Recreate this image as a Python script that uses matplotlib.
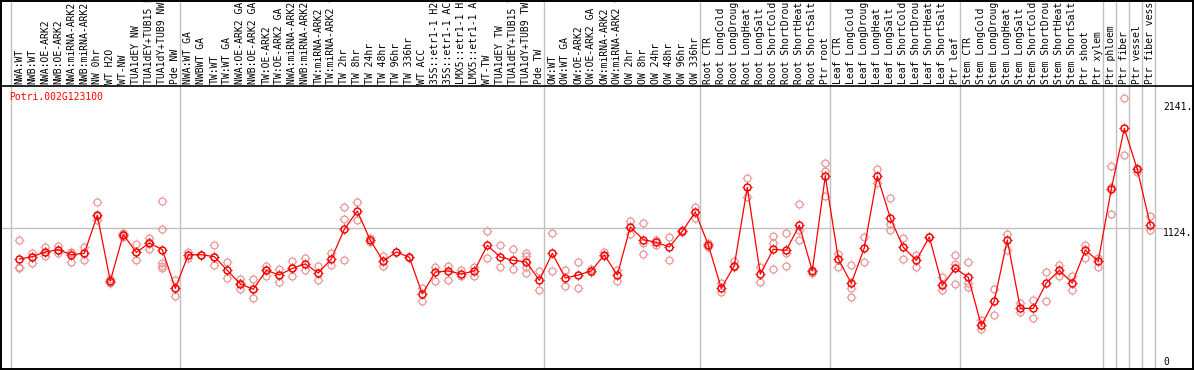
import matplotlib
matplotlib.use('Agg')
import matplotlib.pyplot as plt
from matplotlib.path import Path

# ---------------- data ----------------
gene = "Potri.002G123100"
categories = [
    "NWA:WT", "NWB:WT", "NWA:OE-ARK2", "NWB:OE-ARK2", "NWA:miRNA-ARK2", "NWB:miRNA-ARK2",
    "NW 0hr", "WT H2O", "WT-NW", "TUA1dEY NW", "TUA1dEY+TUB15 NW", "TUA1dY+TUB9 NW", "Pde NW",
    "NWA:WT GA", "NWBWT GA", "TW:WT", "TW:WT GA", "NWA:OE-ARK2 GA", "NWB:OE-ARK2 GA",
    "TW:OE-ARK2", "TW:OE-ARK2 GA", "NWA:miRNA-ARK2 GA", "NWB:miRNA-ARK2 GA", "TW:miRNA-ARK2",
    "TW:miRNA-ARK2 GA", "TW 2hr", "TW 8hr", "TW 24hr", "TW 48hr", "TW 96hr", "TW 336hr",
    "WT ACC", "35S::etr1-1 H2O", "35S::etr1-1 ACC", "LMX5::etr1-1 H2O", "LMX5::etr1-1 ACC",
    "WT-TW", "TUA1dEY TW", "TUA1dEY+TUB15 TW", "TUA1dY+TUB9 TW", "Pde TW",
    "OW:WT", "OW:WT GA", "OW:OE-ARK2", "OW:OE-ARK2 GA", "OW:miRNA-ARK2", "OW:miRNA-ARK2 GA",
    "OW 2hr", "OW 8hr", "OW 24hr", "OW 48hr", "OW 96hr", "OW 336hr",
    "Root CTR", "Root LongCold", "Root LongDrought", "Root LongHeat", "Root LongSalt",
    "Root ShortCold", "Root ShortDrought", "Root ShortHeat", "Root ShortSalt", "Ptr root",
    "Leaf CTR", "Leaf LongCold", "Leaf LongDrought", "Leaf LongHeat", "Leaf LongSalt",
    "Leaf ShortCold", "Leaf ShortDrought", "Leaf ShortHeat", "Leaf ShortSalt", "Ptr leaf",
    "Stem CTR", "Stem LongCold", "Stem LongDrought", "Stem LongHeat", "Stem LongSalt",
    "Stem ShortCold", "Stem ShortDrought", "Stem ShortHeat", "Stem ShortSalt", "Ptr shoot",
    "Ptr xylem", "Ptr phloem", "Ptr fiber", "Ptr vessel", "Ptr fiber vessel",
]
means = [
    870, 889, 927, 946, 905, 916, 1225, 691, 1068, 924, 1000, 946, 632,
    905, 905, 889, 778, 667, 624, 778, 740, 794, 830, 756, 870, 1111, 1260, 1022,
    851, 927, 884, 586, 764, 773, 748, 773, 981, 886, 859, 846, 697,
    916, 716, 740, 773, 903, 740, 1130, 1027, 1005, 968, 1095, 1252,
    984, 632, 816, 1452, 748, 949, 941, 1144, 773, 1544,
    870, 672, 960, 1544, 1203, 965, 859, 1049, 656, 794,
    721, 331, 529, 1024, 469, 469, 675, 778, 675, 943, 854,
    1439, 1931, 1598, 1146,
]
replicates = [
    [1024, 808, 794], [922, 840, 889], [965, 897, 927], [978, 922, 943], [930, 849, 922],
    [970, 859, 916], [1330, 1187, 1220], [705, 678, 686], [1084, 1051, 1070], [992, 859, 927],
    [1043, 949, 1008], [1341, 1111, 840, 816, 794], [700, 570, 632],
    [930, 876], [905, 905], [984, 889, 821], [843, 713], [708, 624, 672], [705, 550, 624],
    [816, 735, 781], [789, 681, 740], [851, 732, 794], [881, 778], [811, 697], [919, 819],
    [1292, 1192, 859], [1333, 1187], [1038, 1011], [897, 811], [927], [889, 876],
    [632, 526], [808, 694], [816, 697], [781, 732], [808, 732], [1095, 876], [981, 805],
    [951, 786], [922, 897, 808, 759], [775, 616],
    [1079, 773], [778, 651], [843, 635], [792, 767], [930, 897], [778, 691],
    [1179, 1073], [1160, 1003, 908], [1027, 987], [1049, 859], [1106, 1087], [1295, 1203],
    [997, 965], [678, 602], [857, 808], [1525, 1371], [802, 686], [1057, 1003, 786],
    [1079, 916, 813], [1317, 1024, 1106], [754, 781], [1647, 1585, 1382],
    [908, 805], [819, 632, 561], [1051, 843], [1598, 1485], [1363, 1154, 1106], [1041, 870],
    [905, 808], [1051], [727, 618], [903, 830, 664],
    [843, 678, 640], [375, 301], [624, 412], [1073, 943], [515, 442], [537, 388],
    [767, 529], [821, 735], [735, 621], [984, 881], [881, 802],
    [1623, 1458, 1233], [2175, 1715], [1607, 1580], [1222, 1106],
]
group_ends = [-1, 12, 40, 52, 62, 72, 83, 84, 85, 86, 87]
ref_line = 1124
tick_values = [2141, 1124, 0]
tick_labels = ["2141.", "1124.", "0"]

# ---------------- layout (pixel mapping) ----------------
W, H = 1194, 370
X0, DX = 19.3, 13.0          # pixel x of first category, spacing
Y0, KY = 366.1, 0.1231       # pixel y of value 0, pixels per unit


def px(x):
    return (x - X0) / DX


def py(y):
    return (Y0 - y) / KY


fig = plt.figure(figsize=(W / 100, H / 100), dpi=100)
ax = fig.add_axes([0, 0, 1, 1])
ax.set_xlim(px(0), px(W))
ax.set_ylim(py(H), py(0))
ax.axis('off')

mono = 'DejaVu Sans Mono'
grey = '#c0c0c0'
rep_col = '#e89494'

# grid lines
for g in group_ends:
    ax.plot([g + 0.38, g + 0.38], [py(0), py(368)], color=grey, lw=1.0, zorder=1)
ax.plot([px(1), px(1162)], [ref_line, ref_line], color=grey, lw=1.0, zorder=1)

# frame lines
ax.plot([px(0), px(W)], [py(85.7), py(85.7)], color='black', lw=1.2, zorder=5)
ax.plot([px(0), px(W)], [py(368.5), py(368.5)], color='black', lw=1.4, zorder=5)
ax.plot([px(0), px(W)], [py(0.5), py(0.5)], color='black', lw=1.4, zorder=5)
ax.plot([px(1.3), px(1.3)], [py(0), py(H)], color='black', lw=1.4, zorder=5)
ax.plot([px(1193.2), px(1193.2)], [py(0), py(H)], color='black', lw=1.4, zorder=5)

# category labels
for i, lab in enumerate(categories):
    ax.text(i, py(84), lab, rotation=90, ha='center', va='bottom', fontsize=7,
            family=mono, color='black', zorder=3)

# tick marks around circles
tick_path = Path([(0, 0.78), (0, 1), (0, -0.78), (0, -1), (0.78, 0), (1, 0), (-0.78, 0), (-1, 0)],
                 [Path.MOVETO, Path.LINETO] * 4)

rx, ry = [], []
for i, reps in enumerate(replicates):
    for v in reps:
        rx.append(i)
        ry.append(v)
ax.plot(rx, ry, linestyle='none', marker='o', ms=5.0, mfc='none', mec=rep_col, mew=0.9, zorder=2)
ax.plot(rx, ry, linestyle='none', marker=tick_path, ms=6.6, mec=rep_col, mew=0.7, zorder=2)

idx = list(range(len(means)))
ax.plot(idx, means, color='red', lw=0.9, zorder=3)
ax.plot(idx, means, linestyle='none', marker=tick_path, ms=6.6, mec='#800000', mew=0.7, zorder=4)
ax.plot(idx, means, linestyle='none', marker='o', ms=5.0, mfc='none', mec='red', mew=1.1, zorder=4)

# gene name
ax.text(px(9.5), py(100.5), gene, color='red', fontsize=7, family=mono, ha='left', va='baseline')

# right value labels
label_px = [107.3, 232.7, 361.7]
for t, ypix in zip(tick_labels, label_px):
    ax.text(px(1163), py(ypix), t, color='black', fontsize=7, family=mono, ha='left', va='center')

fig.savefig('out.png', dpi=100)
